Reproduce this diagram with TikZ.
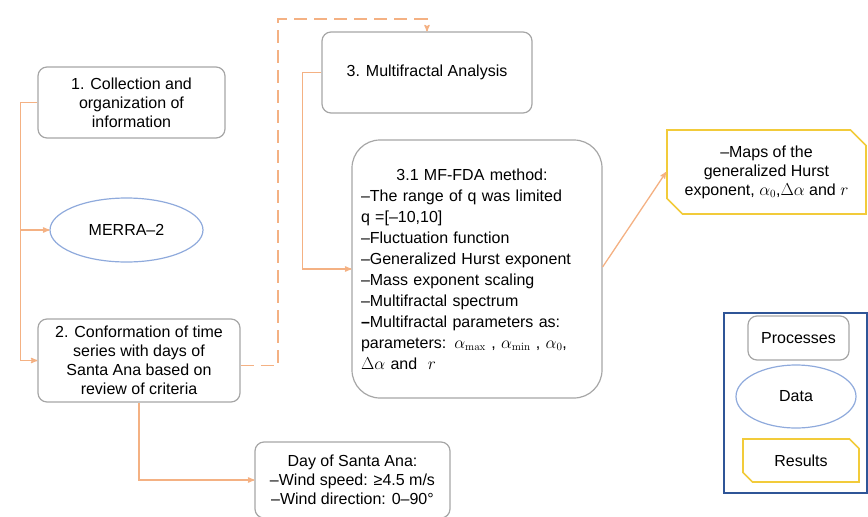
\documentclass[tikz,border=0pt]{standalone}
\usepackage{amssymb, amsmath}
\usepackage[no-math]{fontspec}
\setmainfont{Liberation Sans}
\usetikzlibrary{arrows,shapes.geometric,shapes.misc}

\definecolor{linkorange}{HTML}{F4B183}
\definecolor{boxgray}{HTML}{A6A6A6}
\definecolor{datablue}{HTML}{8FAADC}
\definecolor{resultyellow}{HTML}{F2CB3A}
\definecolor{legendblue}{HTML}{2F5597}

\begin{document}
\begin{tikzpicture}[x=1pt,y=-1pt,->,>=stealth',semithick,font=\fontsize{16}{19}\selectfont]
                  \tikzstyle{process}=[rectangle,rounded corners=9pt,draw=boxgray,line width=1.2pt,align=center,inner sep=2pt]
                  \tikzstyle{data}=[ellipse,draw=datablue,line width=1.2pt,inner sep=0pt]
                  \tikzstyle{result}=[chamfered rectangle,chamfered rectangle corners={north east,south west},draw=resultyellow,line width=1.6pt,align=center,inner sep=0pt]
                  \tikzstyle{link}=[draw=linkorange,line width=1.3pt]
                  \useasboundingbox (0,0) rectangle (868,517);

                  \node[process,minimum width=187pt,minimum height=71pt]  (collect) at (131.5,102.5) {1. Collection and\\organization of\\information};
                  \node[data,minimum width=153pt,minimum height=64pt]      (merra)   at (126.5,230)  {MERRA--2};
                  \node[process,minimum width=202pt,minimum height=83pt]  (series)  at (139,360.5)  {2. Conformation of time\\series with days of\\Santa Ana based on\\review of criteria};
                  \node[process,minimum width=210pt,minimum height=81pt]  (mfa)     at (427,72.5)   {3. Multifractal Analysis};
                  \node[process,rounded corners=28pt,minimum width=250pt,minimum height=258pt,text width=232pt,align=left,
                        font=\fontsize{16}{21}\selectfont] (mffda) at (477,269) {%
                        \makebox[222pt]{3.1 MF-FDA method:}\\
                        \makebox[222pt][s]{--The range of q was limited}\\
                        q =[--10,10]\\
                        --Fluctuation function\\
                        \makebox[222pt][s]{--Generalized Hurst exponent}\\
                        --Mass exponent scaling\\
                        --Multifractal spectrum\\
                        \makebox[222pt][s]{\textbf{--}Multifractal parameters as:}\\
                        \makebox[222pt][s]{parameters: $\alpha_{\max}$ , $\alpha_{\min}$ , $\alpha_0$,}\\
                        $\Delta\alpha$ and \ $r$};
                  \node[result,chamfered rectangle xsep=12pt,minimum width=199pt,minimum height=84pt] (maps) at (766.5,172) {--Maps of the\\generalized Hurst\\exponent, $\alpha_0$,$\Delta\alpha$ and $r$};
                  \node[process,minimum width=195pt,minimum height=76pt]  (day)     at (352.5,480)  {Day of Santa Ana:\\--Wind speed: ≥4.5 m/s\\--Wind direction: 0--90°};

                  % legend
                  \node[draw=legendblue,line width=1.3pt,minimum width=143pt,minimum height=180pt] (legend) at (795.5,403) {};
                  \node[process,minimum width=101pt,minimum height=44pt] (lproc) at (798.5,338) {Processes};
                  \node[data,minimum width=120pt,minimum height=63pt]     (ldata) at (796,396.5) {Data};
                  \node[result,chamfered rectangle xsep=8pt,minimum width=116pt,minimum height=43pt] (lres) at (801,460.5) {Results};

                  \draw[link] (collect.west) -- ++(-17,0) |- (series.west);
                  \draw[link] (collect.west) ++(-17,0) |- (merra.west);
                  \draw[link,dashed,dash pattern=on 13pt off 7pt] ([yshift=-5pt]series.east) -| (278,19) -| (mfa.north);
                  \draw[link] (mfa.west) -- ++(-19,0) |- (mffda.west);
                  \draw[link] (series.south) |- (day.west);
                  \draw[link] ([yshift=2pt]mffda.east) -- (maps.west);
                \end{tikzpicture}
\end{document}
